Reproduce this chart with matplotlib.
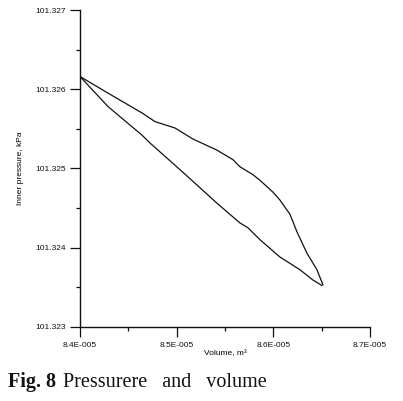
import matplotlib
matplotlib.use("Agg")
import matplotlib.pyplot as plt
from matplotlib.ticker import FuncFormatter, FixedLocator

# Upper branch : volume [m^3], pressure [kPa]
upper_v = [8.4000e-5, 8.4290e-5, 8.4641e-5, 8.4776e-5, 8.4982e-5, 8.5169e-5, 8.5417e-5,
           8.5582e-5, 8.5655e-5, 8.5789e-5, 8.5861e-5, 8.5996e-5, 8.6068e-5, 8.6172e-5,
           8.6244e-5, 8.6347e-5, 8.6451e-5, 8.6513e-5]
upper_p = [101.32616, 101.32595, 101.32570, 101.32559, 101.32551, 101.32537, 101.32523,
           101.32511, 101.32502, 101.32492, 101.32485, 101.32470, 101.32460, 101.32442,
           101.32420, 101.32393, 101.32372, 101.32353]
# Lower branch
lower_v = [8.4000e-5, 8.4290e-5, 8.4641e-5, 8.4724e-5, 8.5065e-5, 8.5417e-5, 8.5655e-5,
           8.5737e-5, 8.5861e-5, 8.6068e-5, 8.6275e-5, 8.6409e-5, 8.6503e-5]
lower_p = [101.32616, 101.32578, 101.32542, 101.32532, 101.32495, 101.32456, 101.32431,
           101.32425, 101.32410, 101.32388, 101.32372, 101.32359, 101.32352]

x_ticks = [8.4e-5, 8.5e-5, 8.6e-5, 8.7e-5]
y_ticks = [101.323, 101.324, 101.325, 101.326, 101.327]

fig = plt.figure(figsize=(4.03, 4.01), dpi=100)
ax = fig.add_axes([80/403, 1-326.7/401, 290/403, (326.7-10)/401])

ax.plot(upper_v, upper_p, color="#111111", lw=0.9)
ax.plot(lower_v, lower_p, color="#111111", lw=0.9)

ax.set_xlim(8.4e-5, 8.7e-5)
ax.set_ylim(101.323, 101.327)
ax.xaxis.set_major_locator(FixedLocator(x_ticks))
ax.yaxis.set_major_locator(FixedLocator(y_ticks))
ax.xaxis.set_minor_locator(FixedLocator([8.45e-5, 8.55e-5, 8.65e-5]))
ax.yaxis.set_minor_locator(FixedLocator([101.3235, 101.3245, 101.3255, 101.3265]))
ax.xaxis.set_major_formatter(FuncFormatter(lambda v, p: f"{v*1e5:.1f}E-005"))
ax.yaxis.set_major_formatter(FuncFormatter(lambda v, p: f"{v:.3f}"))

for s in ["top", "right"]:
    ax.spines[s].set_visible(False)
for s in ["left", "bottom"]:
    ax.spines[s].set_linewidth(1.0)
    ax.spines[s].set_color("#111111")

ax.tick_params(which="major", direction="out", length=7, width=0.9, colors="#111111",
               labelsize=6, pad=3)
ax.tick_params(which="minor", direction="out", length=3, width=0.9, colors="#111111")
ax.tick_params(axis="x", which="major", pad=4)
for lab in ax.get_xticklabels() + ax.get_yticklabels():
    lab.set_family("Liberation Sans")

ax.set_xlabel("Volume, m\u00b3", fontsize=6, family="Liberation Sans", labelpad=1)
ax.set_ylabel("Inner pressure, kPa", fontsize=6, family="Liberation Sans", labelpad=8)

# caption
fig.canvas.draw()
r = fig.canvas.get_renderer()
t1 = fig.text(8/403, 1-387/401, "Fig. 8", fontsize=14.5, fontweight="bold",
              family="Liberation Serif", color="#111111")
bb = t1.get_window_extent(renderer=r)
fig.text((bb.x1 + 7)/403, 1-387/401, "Pressurere   and   volume", fontsize=14.5,
         family="Liberation Serif", color="#111111")

fig.savefig("out.png", dpi=100, facecolor="white")
